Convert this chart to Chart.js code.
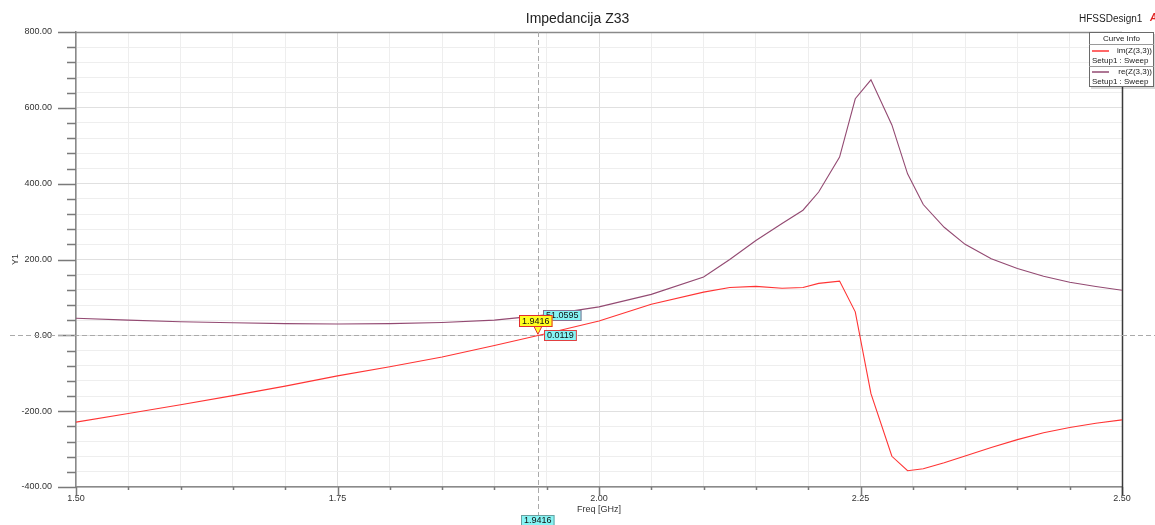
<!DOCTYPE html>
<html>
<head>
<meta charset="utf-8">
<title>Impedancija Z33</title>
<script src="https://cdn.jsdelivr.net/npm/chart.js@4.4.0/dist/chart.umd.min.js"></script>
<style>
  html, body { margin: 0; padding: 0; background: #fff; }
</style>
</head>
<body>
<canvas id="zChart" width="1155" height="525"></canvas>
<script>
// sweep points (GHz) and traces
const freqs = [1.50, 1.55, 1.60, 1.65, 1.70, 1.75, 1.80, 1.85, 1.90, 1.95, 2.00, 2.05, 2.10, 2.125, 2.15,
               2.175, 2.195, 2.21, 2.23, 2.245, 2.26, 2.28, 2.295, 2.31, 2.33, 2.35, 2.375, 2.40, 2.425,
               2.45, 2.475, 2.50];
const imZ33 = [-229, -206, -183, -159, -134, -107, -83, -57, -27, 5, 38, 82, 114, 126, 129,
               124, 126, 137, 143, 62, -154, -319, -357, -352, -336, -318, -296, -275, -257,
               -243, -232, -223];
const reZ33 = [45, 40, 36, 33, 31, 30, 31, 34, 40, 54, 75, 108, 154, 200, 250,
               295, 330, 378, 470, 624, 674, 555, 426, 345, 285, 240, 202, 176, 156,
               140, 129, 119];

const xTickLabels = [1.50, 1.75, 2.00, 2.25, 2.50];
const yTickLabels = [-400, -200, 0, 200, 400, 600, 800];
const xMinorStep = 0.05;
const yMinorStep = 40;

// marker m1
const markerFreq = [1.9416];
const markerIm = [0.0119];
const markerRe = [51.0595];

const legendNames = ['im(Z(3,3))', 're(Z(3,3))'];
const sweepName = 'Setup1 : Sweep';

const imColor = '#ff3434';
const reColor = '#934a72';
const fontFam = 'Arial, "Liberation Sans", sans-serif';

const isMajor = (v, list) => list.some(t => Math.abs(t - v) < 1e-6);

const xGrid = [];
for (let v = xTickLabels[0]; v <= xTickLabels[xTickLabels.length - 1] + 1e-9; v += xMinorStep) xGrid.push(+v.toFixed(2));
const yGrid = [];
for (let v = yTickLabels[0]; v <= yTickLabels[yTickLabels.length - 1]; v += yMinorStep) yGrid.push(v);

function box(ctx, x, y, w, h, fill, stroke) {
    ctx.fillStyle = fill;
    ctx.fillRect(x, y, w, h);
    ctx.strokeStyle = stroke;
    ctx.lineWidth = 1;
    ctx.strokeRect(x + 0.5, y + 0.5, w - 1, h - 1);
}

const hfssDecor = {
    id: 'hfssDecor',
    beforeDatasetsDraw(chart) {
        const ctx = chart.ctx, a = chart.chartArea;
        const xs = chart.scales.x, ys = chart.scales.y;
        ctx.save();
        // tick marks: long for labelled values, short for the rest
        ctx.strokeStyle = '#7a7a7a';
        ctx.lineWidth = 1.5;
        ctx.beginPath();
        yGrid.forEach(v => {
            const py = Math.round(ys.getPixelForValue(v)) + 0.5;
            const len = isMajor(v, yTickLabels) ? 18 : 9;
            ctx.moveTo(a.left - len, py); ctx.lineTo(a.left, py);
        });
        xGrid.forEach(v => {
            const px = Math.round(xs.getPixelForValue(v)) + 0.5;
            const len = isMajor(v, xTickLabels) ? 8 : 3;
            ctx.moveTo(px, a.bottom); ctx.lineTo(px, a.bottom + len);
        });
        ctx.stroke();
        // top and right frame
        ctx.beginPath();
        ctx.strokeStyle = '#8a8a8a';
        ctx.moveTo(a.left, a.top + 0.5); ctx.lineTo(a.right, a.top + 0.5);
        ctx.stroke();
        ctx.beginPath();
        ctx.strokeStyle = '#3a3a3a';
        ctx.moveTo(a.right + 0.5, a.top); ctx.lineTo(a.right + 0.5, a.bottom + 8);
        ctx.stroke();
        // dashed zero line and marker line
        ctx.setLineDash([5, 3]);
        ctx.strokeStyle = '#aaaaaa';
        ctx.lineWidth = 1;
        const y0 = Math.round(ys.getPixelForValue(0)) + 0.5;
        ctx.beginPath();
        ctx.moveTo(10, y0); ctx.lineTo(chart.width, y0);
        const mx = Math.round(xs.getPixelForValue(markerFreq[0])) + 0.5;
        ctx.moveTo(mx, a.top); ctx.lineTo(mx, a.bottom + 28);
        ctx.stroke();
        ctx.restore();
    },
    afterDraw(chart) {
        const ctx = chart.ctx, a = chart.chartArea;
        const xs = chart.scales.x, ys = chart.scales.y;
        ctx.save();
        // title and design name
        ctx.fillStyle = '#222';
        ctx.textBaseline = 'middle';
        ctx.textAlign = 'center';
        ctx.font = '14px ' + fontFam;
        ctx.fillText('Impedancija Z33', chart.width / 2, 19);
        ctx.font = '10px ' + fontFam;
        ctx.textAlign = 'left';
        ctx.fillText('HFSSDesign1', 1079, 19);
        ctx.fillStyle = '#e02020';
        ctx.font = 'italic bold 10px ' + fontFam;
        ctx.fillText('A', 1150, 18);

        // curve info box
        const bx = 1089, by = 32, bw = 65, bh = 55;
        ctx.fillStyle = 'rgba(0,0,0,0.15)';
        ctx.fillRect(bx + 2, by + 2, bw, bh);
        box(ctx, bx, by, bw, bh, '#ffffff', '#6a6a6a');
        ctx.strokeStyle = '#9a9a9a';
        ctx.beginPath();
        ctx.moveTo(bx, by + 12.5); ctx.lineTo(bx + bw, by + 12.5);
        ctx.moveTo(bx, by + 34.5); ctx.lineTo(bx + bw, by + 34.5);
        ctx.stroke();
        ctx.fillStyle = '#222';
        ctx.font = '8px ' + fontFam;
        ctx.textAlign = 'center';
        ctx.fillText('Curve Info', bx + bw / 2, by + 6.5);
        [imColor, reColor].forEach((c, i) => {
            const ty = by + 19 + i * 21;
            ctx.strokeStyle = c;
            ctx.lineWidth = 1.5;
            ctx.beginPath();
            ctx.moveTo(bx + 3, ty); ctx.lineTo(bx + 20, ty);
            ctx.stroke();
            ctx.fillStyle = '#222';
            ctx.textAlign = 'right';
            ctx.fillText(legendNames[i], bx + bw - 2, ty);
            ctx.textAlign = 'left';
            ctx.fillText(sweepName, bx + 3, ty + 10);
        });

        // marker labels
        const mx = xs.getPixelForValue(markerFreq[0]);
        const pyIm = ys.getPixelForValue(markerIm[0]);
        const pyRe = ys.getPixelForValue(markerRe[0]);
        ctx.font = '9px ' + fontFam;
        ctx.textAlign = 'center';
        const cyan = '#86f4f4';

        // re value
        let t = markerRe[0].toFixed(4);
        let w = ctx.measureText(t).width + 6;
        box(ctx, Math.round(mx + 5), Math.round(pyRe - 6), w, 11, cyan, '#8a7090');
        ctx.fillStyle = '#111';
        ctx.fillText(t, Math.round(mx + 5) + w / 2, Math.round(pyRe - 6) + 6);

        // im value
        t = markerIm[0].toFixed(4);
        w = ctx.measureText(t).width + 6;
        box(ctx, Math.round(mx + 6), Math.round(pyIm - 5), w, 11, cyan, '#e04040');
        ctx.fillStyle = '#111';
        ctx.fillText(t, Math.round(mx + 6) + w / 2, Math.round(pyIm - 5) + 6);

        // marker pointer + frequency flag
        ctx.fillStyle = '#ffff30';
        ctx.strokeStyle = '#e03030';
        ctx.lineWidth = 1;
        ctx.beginPath();
        ctx.moveTo(mx - 4, pyIm - 9); ctx.lineTo(mx + 4, pyIm - 9); ctx.lineTo(mx, pyIm - 1); ctx.closePath();
        ctx.fill(); ctx.stroke();
        t = markerFreq[0].toFixed(4);
        w = ctx.measureText(t).width + 6;
        box(ctx, Math.round(mx - 19), Math.round(pyIm - 20), w, 12, '#ffff20', '#e03030');
        ctx.fillStyle = '#111';
        ctx.fillText(t, Math.round(mx - 19) + w / 2, Math.round(pyIm - 20) + 6.5);

        // frequency readout under the axis
        box(ctx, Math.round(mx - 17), a.bottom + 28, w, 11, cyan, '#6aa0a0');
        ctx.fillStyle = '#111';
        ctx.fillText(t, Math.round(mx - 17) + w / 2, a.bottom + 34);
        ctx.restore();
    }
};

const ctx = document.getElementById('zChart').getContext('2d');

const zChart = new Chart(ctx, {
    type: 'line',
    data: {
        datasets: [{
            label: legendNames[0],
            data: freqs.map((f, i) => ({ x: f, y: imZ33[i] })),
            borderColor: imColor,
            borderWidth: 1.1
        }, {
            label: legendNames[1],
            data: freqs.map((f, i) => ({ x: f, y: reZ33[i] })),
            borderColor: reColor,
            borderWidth: 1.1
        }]
    },
    options: {
        responsive: false,
        animation: false,
        devicePixelRatio: 1,
        layout: { padding: { left: 0, top: 32, right: 33, bottom: 0 } },
        elements: { point: { radius: 0 }, line: { tension: 0 } },
        plugins: {
            legend: { display: false },
            tooltip: { enabled: false },
            title: { display: false }
        },
        scales: {
            x: {
                type: 'linear',
                min: xTickLabels[0],
                max: xTickLabels[xTickLabels.length - 1],
                afterFit: s => { s.height = 38; },
                afterBuildTicks: s => { s.ticks = xGrid.map(v => ({ value: v })); },
                grid: {
                    drawTicks: false,
                    color: c => (c.tick && isMajor(c.tick.value, xTickLabels)) ? '#e0e0e0' : '#eeeeee'
                },
                border: { color: '#8a8a8a', width: 1.5 },
                ticks: {
                    padding: 6,
                    autoSkip: false,
                    maxRotation: 0,
                    color: '#333',
                    font: { family: fontFam, size: 9 },
                    callback: v => isMajor(v, xTickLabels) ? v.toFixed(2) : ''
                },
                title: {
                    display: true,
                    text: 'Freq [GHz]',
                    color: '#333',
                    font: { family: fontFam, size: 9 },
                    padding: { top: 0, bottom: 10 }
                }
            },
            y: {
                min: yTickLabels[0],
                max: yTickLabels[yTickLabels.length - 1],
                afterFit: s => { s.width = 76; },
                afterBuildTicks: s => { s.ticks = yGrid.map(v => ({ value: v })); },
                grid: {
                    drawTicks: false,
                    color: c => (c.tick && isMajor(c.tick.value, yTickLabels)) ? '#e0e0e0' : '#eeeeee'
                },
                border: { color: '#8a8a8a', width: 1.5 },
                ticks: {
                    padding: 24,
                    autoSkip: false,
                    color: '#333',
                    font: { family: fontFam, size: 9 },
                    callback: v => isMajor(v, yTickLabels) ? v.toFixed(2) : ''
                },
                title: {
                    display: true,
                    text: 'Y1',
                    color: '#333',
                    font: { family: fontFam, size: 9 },
                    padding: { top: 10, bottom: 0 }
                }
            }
        }
    },
    plugins: [hfssDecor]
});
</script>
</body>
</html>
